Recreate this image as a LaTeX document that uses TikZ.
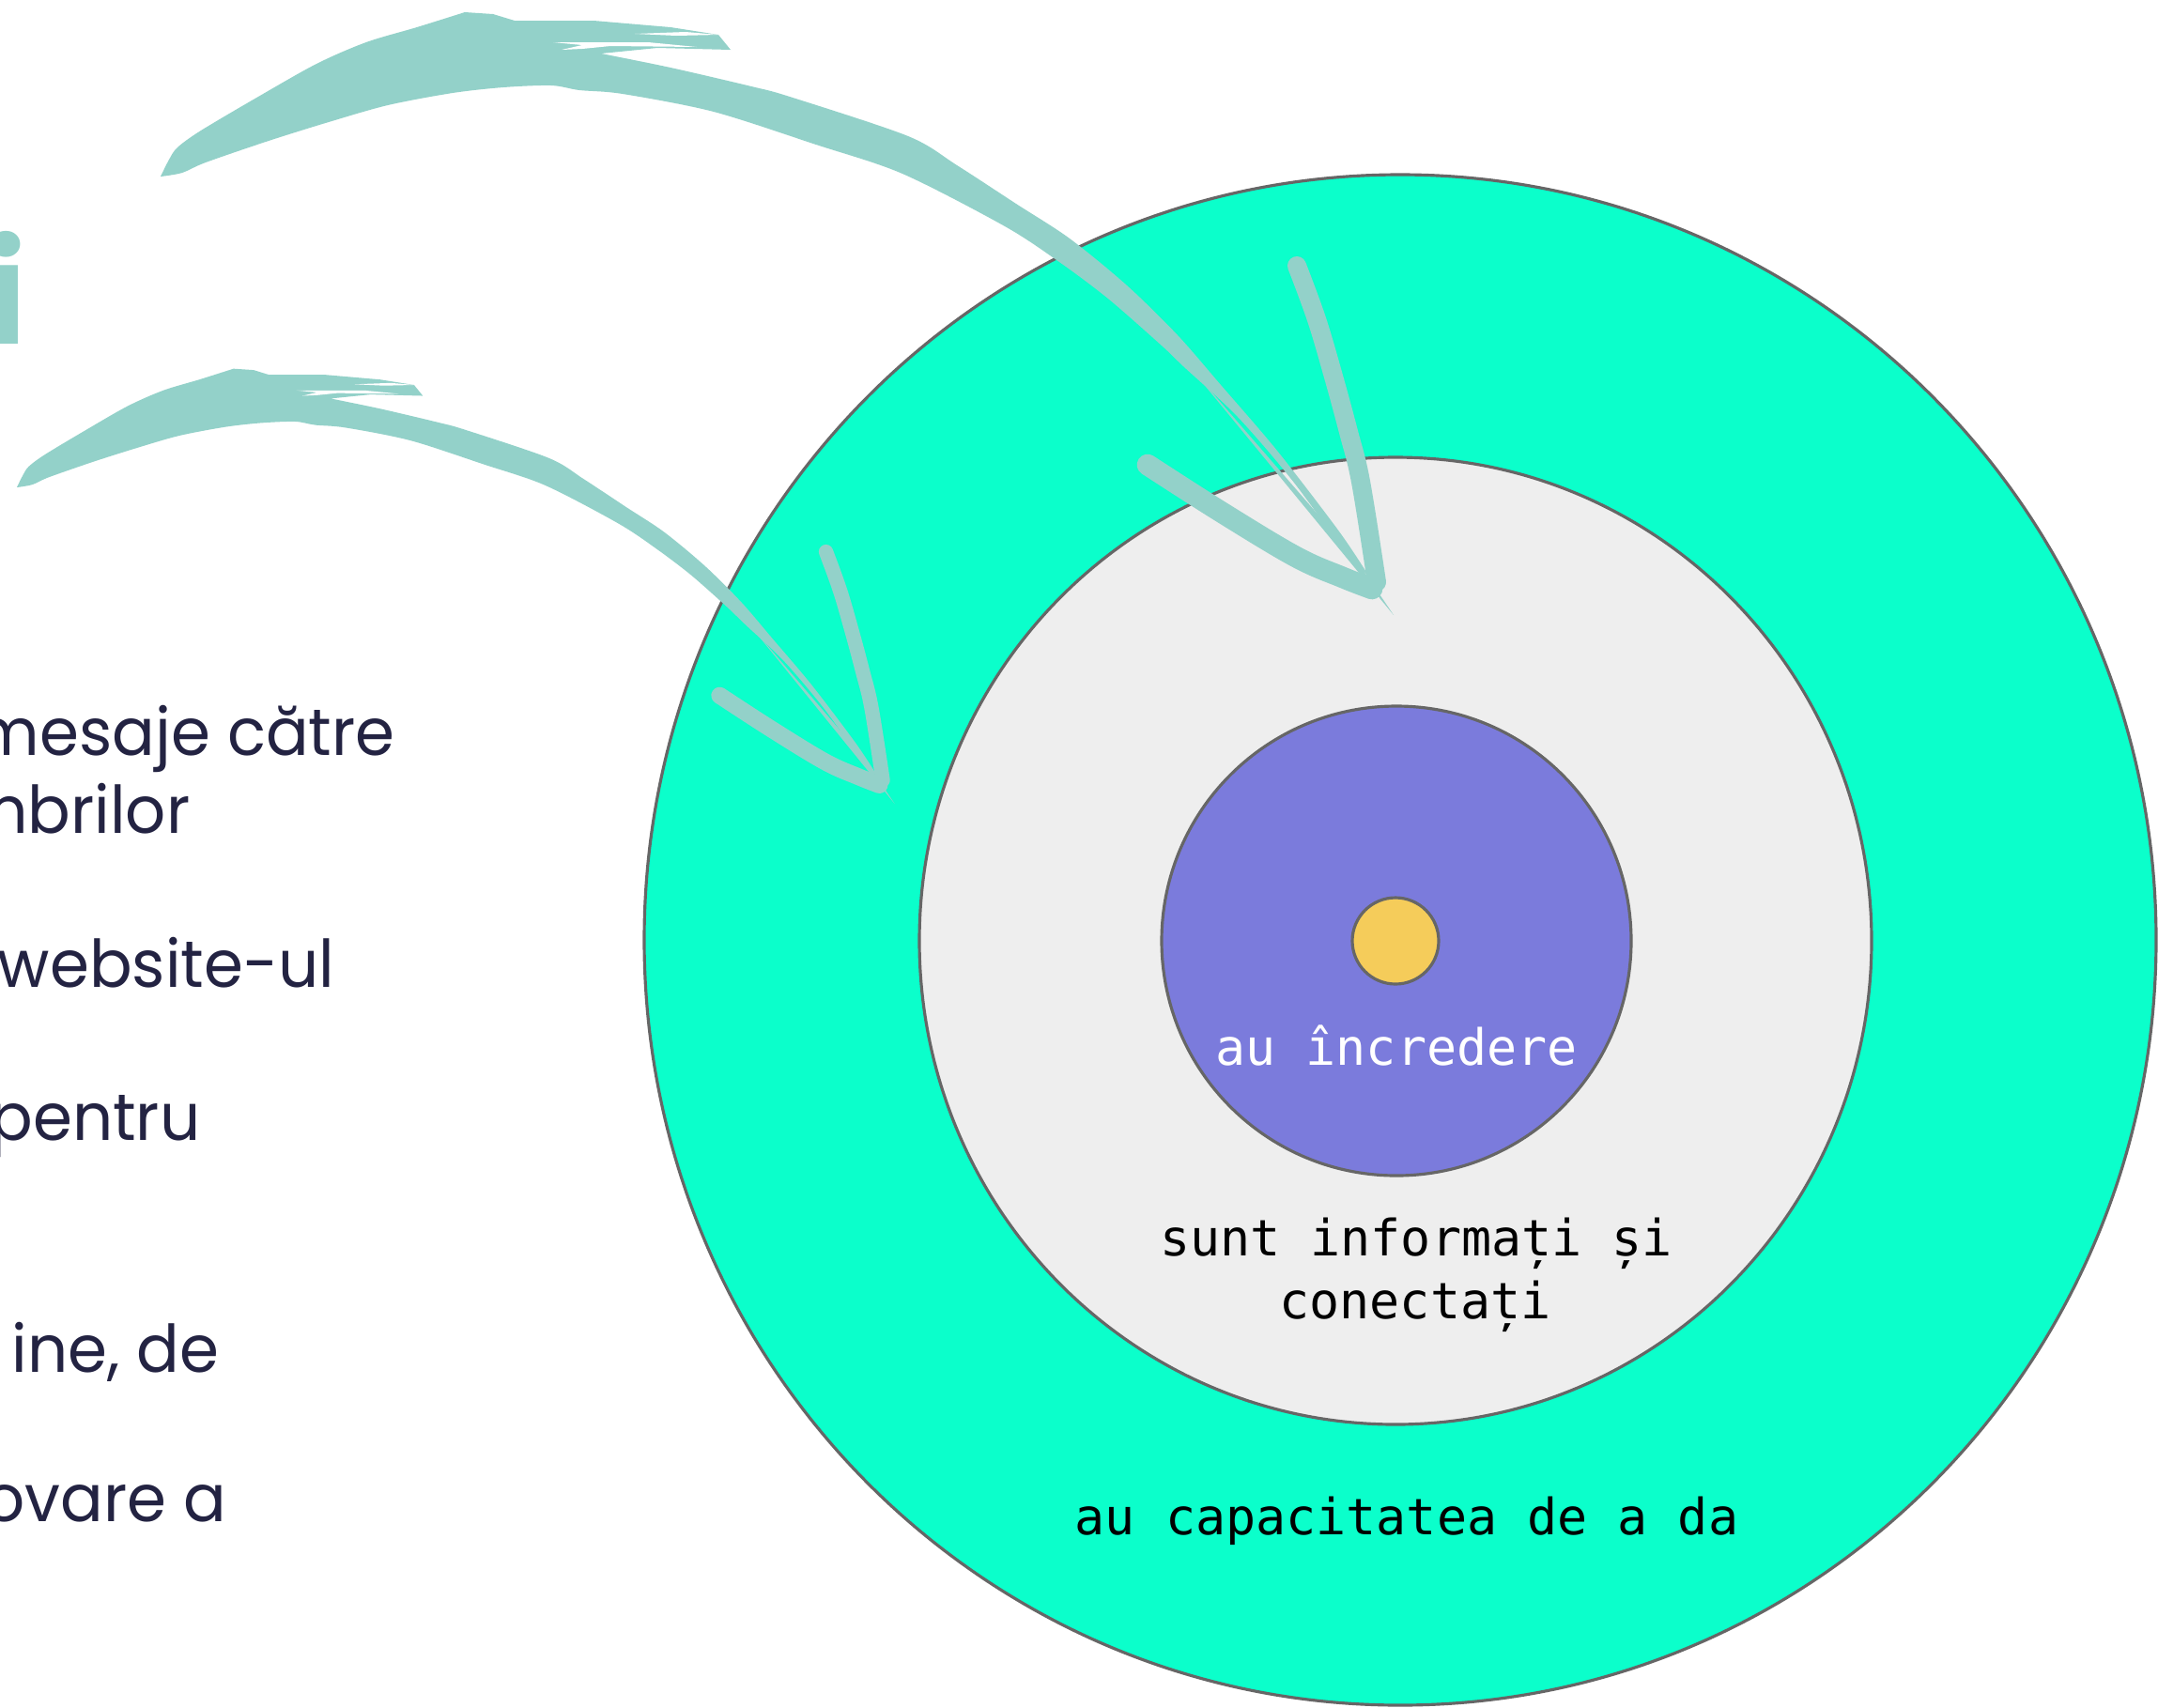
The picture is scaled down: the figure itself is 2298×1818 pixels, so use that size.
\documentclass[tikz,border=0pt]{standalone}
\usepackage{fontspec}
\usetikzlibrary{shapes.geometric}
\newfontfamily\popfont{Poppins}[FakeStretch=0.965]
\newfontfamily\titlefont{Poppins}
\newfontfamily\monofont{DejaVu Sans Mono}
\definecolor{outerc}{RGB}{11,255,203}
\definecolor{midc}{RGB}{238,238,238}
\definecolor{purplec}{RGB}{123,123,220}
\definecolor{yellowc}{RGB}{245,204,90}
\definecolor{ringc}{RGB}{102,102,102}
\definecolor{arrowc}{RGB}{147,209,201}
\definecolor{navyc}{RGB}{35,35,66}
\newcommand{\brushbody}{%
  \fill[arrowc] plot[smooth, tension=0.5] coordinates {(171,188) (180,170) (189,157) (214,139) (275,103) (337,68) (390,45) (444,29) (495,13)}
    -- (525,15) -- (548,22) -- (632,22) -- (714,29) -- (765,37) -- (778,53) -- (700,51) -- (640,57)
    -- plot[smooth, tension=0.5] coordinates {(640,57) (714,72) (800,92) (841,103) (967,145) (1019,176) (1082,217) (1139,254) (1200,304) (1254,357) (1300,410) (1360,480) (1426,566) (1458,614)}
    -- plot[smooth, tension=0.5] coordinates {(1436,594) (1378,514) (1318,444) (1260,390) (1237,368) (1180,318) (1128,279) (1070,241) (961,185) (869,154) (760,119) (663,100) (617,96) (587,91) (536,93) (482,99) (413,112) (350,130) (286,150) (219,173) (194,184) (171,188)}
    -- cycle;
  \fill[white] (589,45) -- (690,45) -- (742,50) -- (650,49) -- (620,52) -- (598,53) -- (620,48) -- cycle;
  \fill[white] (676,36) -- (730,34) -- (765,37) -- (720,38) -- cycle;
  \fill[arrowc] (1262,385) -- (1484,655) -- (1440,590) -- cycle;
}
\newcommand{\brushhead}[2]{%
  \draw[headstroke, line width=#1] plot[smooth, tension=0.6] coordinates {(1381,283) (1402,340) (1420,401) (1436,460) (1449,513) (1466,620)};
  \draw[headstroke, line width=#2] plot[smooth, tension=0.6] coordinates {(1222,495) (1300,545) (1380,593) (1430,615) (1461,627)};
}
\begin{document}
\begin{tikzpicture}[x=0.3pt,y=-0.3pt,
  ring/.style={ellipse, draw=ringc, line width=0.95pt, inner sep=0pt},
  monotext/.style={font=\monofont\fontsize{16}{20}\selectfont, inner sep=0pt, anchor=base},
  lefttext/.style={font=\popfont\fontsize{21}{25}\selectfont, text=navyc, inner sep=0pt, anchor=base east},
  headstroke/.style={draw=arrowc, line cap=round, line join=round}]
\useasboundingbox (0,0) rectangle (2298,1818);
\clip (0,0) rectangle (2298,1818);
\fill[white] (0,0) rectangle (2298,1818);

% target rings
\node[ring, fill=outerc, minimum width=483pt, minimum height=489pt] (outer) at (1491,1001) {};
\node[ring, fill=midc, minimum width=304.2pt, minimum height=309pt] (middle) at (1486,1002) {};
\node[ring, fill=purplec, minimum width=150pt, minimum height=150pt] (core) at (1487,1002) {};
\node[ring, fill=yellowc, minimum width=27.6pt, minimum height=27.6pt] (center) at (1486,1002) {};

% brush arrows
\brushbody
\brushhead{6pt}{6.8pt}
\begin{scope}[shift={(18,519)}, xscale=0.712, yscale=0.722, shift={(-171,-188)}]
  \brushbody
  \brushhead{4.6pt}{5.4pt}
\end{scope}

% ring labels
\node[monotext, text=white] (trust) at (1487,1134) {au încredere};
\node[monotext] (inf1) at (1508,1337) {sunt informați și};
\node[monotext] (inf2) at (1507,1404) {conectați};
\node[monotext] (give) at (1498,1634) {au capacitatea de a da};

% left text (cut by the page edge)
\node[font=\titlefont\bfseries\fontsize{45}{45}\selectfont, text=arrowc, inner sep=0pt, anchor=base east] (title) at (29,366) {i};
\node[lefttext] (l1) at (421,804) {mesaje către};
\node[lefttext] (l2) at (203,887) {membrilor};
\node[lefttext] (l3) at (357,1051) {website-ul};
\node[lefttext] (l4) at (214,1214) {pentru};
\node[lefttext] (l5) at (234,1461) {ine, de};
\node[lefttext] (l6) at (242,1620) {ovare a};
\end{tikzpicture}
\end{document}
